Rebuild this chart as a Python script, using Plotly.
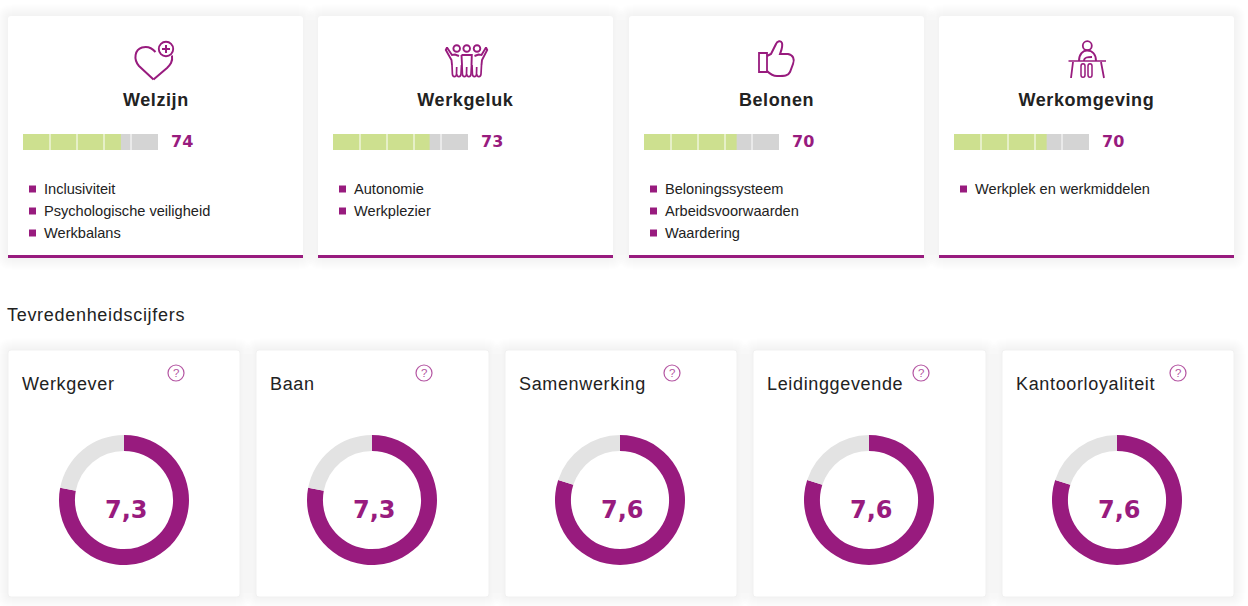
import json
import plotly.graph_objects as go

# ---- data ----
theme_names = ["Welzijn", "Werkgeluk", "Belonen", "Werkomgeving"]
theme_scores = [74, 73, 70, 70]
theme_items = [
    ["Inclusiviteit", "Psychologische veiligheid", "Werkbalans"],
    ["Autonomie", "Werkplezier"],
    ["Beloningssysteem", "Arbeidsvoorwaarden", "Waardering"],
    ["Werkplek en werkmiddelen"],
]
section_title = "Tevredenheidscijfers"
sat_names = ["Werkgever", "Baan", "Samenwerking", "Leidinggevende", "Kantoorloyaliteit"]
sat_labels = ["7,3", "7,3", "7,6", "7,6", "7,6"]
sat_filled = [78, 78, 80, 80, 80]      # drawn share of each ring
sat_rest = [22, 22, 20, 20, 20]
bar_max = 102
segment_edges = [20.4, 40.8, 61.2, 81.6]

# ---- style / layout ----
W, H = 1248, 606
PURPLE = "#981B7E"
GREEN = "#CDE08F"
TRACK = "#D4D4D4"
RING = "#E3E3E3"
INK = "#222222"
QMARK = "#B455A2"
SANS = "Liberation Sans, Arial, sans-serif"
DEJA = "DejaVu Sans, Verdana, sans-serif"

card_x = [(8, 303), (318, 613), (629, 924), (939, 1234)]
card_top, card_bot = 16, 258
sat_x = [(8, 240), (256, 489), (505, 737), (753, 986), (1002, 1234)]
sat_top, sat_bot = 350, 597
help_x = [176, 424, 672, 921, 1178]
ring_cx = [124, 372, 620, 869, 1117]
ring_cy, ring_r = 500, 65


def rrect(x0, y0, x1, y1, r):
    return (f"M{x0+r},{y0} L{x1-r},{y0} Q{x1},{y0} {x1},{y0+r} L{x1},{y1-r} Q{x1},{y1} {x1-r},{y1} "
            f"L{x0+r},{y1} Q{x0},{y1} {x0},{y1-r} L{x0},{y0+r} Q{x0},{y0} {x0+r},{y0} Z")


shapes, notes, traces = [], [], []


def add_path(path, color=PURPLE, w=2.0, fill=None):
    shapes.append(dict(type="path", xref="x", yref="y", path=path, layer="above",
                       line=dict(color=color, width=w),
                       fillcolor=fill if fill else "rgba(0,0,0,0)"))


def add_circle(cx, cy, r, color=PURPLE, w=2.0):
    shapes.append(dict(type="circle", xref="x", yref="y", x0=cx-r, x1=cx+r, y0=cy-r, y1=cy+r,
                       layer="above", line=dict(color=color, width=w)))


def add_card(x0, y0, x1, y1, border=None):
    for e in range(12, 0, -1):
        shapes.append(dict(type="path", xref="x", yref="y", layer="below",
                           path=rrect(x0-e, y0-e, x1+e, y1+e, 4+e),
                           line=dict(width=0), fillcolor="rgba(0,0,0,0.003)"))
    shapes.append(dict(type="path", xref="x", yref="y", layer="below",
                       path=rrect(x0, y0, x1, y1, 3),
                       line=dict(width=1 if border else 0, color=border or "white"),
                       fillcolor="white"))


def note(x, y, text, size, color=INK, font=SANS, anchor="left", bold=False):
    notes.append(dict(xref="x", yref="y", x=x, y=y, text=f"<b>{text}</b>" if bold else text,
                      showarrow=False, xanchor=anchor, yanchor="middle", align=anchor,
                      borderpad=0, borderwidth=0,
                      font=dict(size=size, color=color, family=font)))


# --- icons (decoration, in page pixels) ---
def icon_heart():
    add_path("M153.5,79.5 L139,66 C133,59 135,49.5 142,47.5 C147,46 152,48 155.5,52", w=2)
    add_path("M172,55.5 C173,62 170,65 167,68 L153.5,79.5", w=2)
    add_circle(166, 49, 7.2, w=1.9)
    add_path("M162,49 L170,49 M166,45 L166,53", w=2)


def icon_people():
    for cx in (456.7, 466.7, 477):
        add_circle(cx, 48.5, 3.3, w=1.9)
    # arms and torsos
    add_path("M447,47.5 L452,55 L455,54.5 L459,56 M447,47.5 L445.8,50 L451.5,60 L452,65", w=1.9)
    add_path("M486,47.5 L481.5,55 L478.5,54.5 L474.5,56 M486,47.5 L487.2,50 L482,60 L481.5,65", w=1.9)
    add_path("M461.5,55 L471.8,55 L471.5,65 M461.5,55 L462,65", w=1.9)
    # legs
    for x0 in (452, 462, 472):
        add_path(f"M{x0},65 L{x0+.4},74 C{x0+.6},77.5 {x0+4.2},77.5 {x0+4.5},74 L{x0+4.7},67 "
                 f"M{x0+4.7},74 C{x0+5},77.5 {x0+8.8},77.5 {x0+9},74 L{x0+9.5},65", w=1.7)


def icon_thumb():
    add_path("M759,53 L767,53 L767,72 L759,72 Z", w=1.8)
    add_path("M767,56 L771,54 L776,44 C777,41 781,40 782,43 C783,47 781,51 780,54 L788,54 "
             "C793,55 795,59 793,64 L790,72 C788,76 785,76 777,76 C773,76 771,75 767,71", w=2)


def icon_desk():
    add_circle(1087.3, 45.7, 4.5, w=1.8)
    add_path("M1079,61 C1079,54 1083,50.5 1087,50.5 C1092,50.5 1096,54 1096,61", w=2)
    add_path("M1084,61 C1084,57 1088,57 1092,57", w=1.8)
    add_path("M1068.5,61 L1106,61", w=1.6)
    add_path("M1073,62 L1071,78 M1101,62 L1104,78", w=1.8)
    add_path("M1081,66 C1081,63 1085,63 1085,66 L1085,75 C1085,78 1081,78 1081,75 Z", w=1.5)
    add_path("M1088,66 C1088,63 1092,63 1092,66 L1092,75 C1092,78 1088,78 1088,75 Z", w=1.5)


icons = [icon_heart, icon_people, icon_thumb, icon_desk]

axes = {}
# --- upper cards ---
for i, (x0, x1) in enumerate(card_x):
    add_card(x0, card_top, x1, card_bot)
    shapes.append(dict(type="rect", xref="x", yref="y", layer="below", x0=x0, x1=x1, y0=255, y1=258,
                       line=dict(width=0), fillcolor=PURPLE))
    icons[i]()
    note((x0 + x1) / 2, 100, theme_names[i], 18, anchor="center", bold=True)

    bx0 = x0 + 15
    n = i + 2
    axes[f"xaxis{n}"] = dict(domain=[bx0 / W, (bx0 + 135) / W], range=[0, bar_max], visible=False,
                             anchor=f"y{n}", fixedrange=True)
    axes[f"yaxis{n}"] = dict(domain=[1 - 150 / H, 1 - 134 / H], range=[-0.5, 0.5], visible=False,
                             anchor=f"x{n}", fixedrange=True)
    traces.append(go.Bar(y=[0], x=[bar_max], orientation="h", width=1, xaxis=f"x{n}", yaxis=f"y{n}",
                         marker=dict(color=TRACK, line=dict(width=0)), hoverinfo="skip"))
    traces.append(go.Bar(y=[0], x=[theme_scores[i]], orientation="h", width=1, xaxis=f"x{n}", yaxis=f"y{n}",
                         marker=dict(color=GREEN, line=dict(width=0)), hoverinfo="skip"))
    for e in segment_edges:
        shapes.append(dict(type="line", xref=f"x{n}", yref=f"y{n} domain", x0=e, x1=e, y0=0, y1=1,
                           layer="above", line=dict(color="white", width=1)))
    note(bx0 + 148, 141, str(theme_scores[i]), 16, color=PURPLE, font=DEJA, bold=True)

    for k, item in enumerate(theme_items[i]):
        yy = 189 + 22 * k
        shapes.append(dict(type="rect", xref="x", yref="y", layer="above",
                           x0=x0 + 21, x1=x0 + 28, y0=yy - 3.5, y1=yy + 3.5,
                           line=dict(width=0), fillcolor=PURPLE))
        note(x0 + 36, yy, item, 14.6)

note(7, 315, section_title, 18)

# --- lower cards ---
for i, (x0, x1) in enumerate(sat_x):
    add_card(x0, sat_top, x1, sat_bot, border="#F1F1F1")
    note(x0 + 14, 384, sat_names[i], 18)
    add_circle(help_x[i], 373, 8, color=QMARK, w=1.2)
    note(help_x[i], 373, "?", 11.5, color=QMARK, anchor="center")
    cx = ring_cx[i]
    traces.append(go.Pie(values=[sat_filled[i], sat_rest[i]], hole=0.755, sort=False,
                         direction="clockwise", rotation=0, textinfo="none", hoverinfo="skip",
                         marker=dict(colors=[PURPLE, RING], line=dict(width=0)),
                         domain=dict(x=[(cx - ring_r) / W, (cx + ring_r) / W],
                                     y=[1 - (ring_cy + ring_r) / H, 1 - (ring_cy - ring_r) / H]),
                         showlegend=False))
    note(cx + 2.5, 510, sat_labels[i], 24, color=PURPLE, font=DEJA, bold=True, anchor="center")

fig = go.Figure(traces)
fig.update_layout(
    width=W, height=H, margin=dict(l=0, r=0, t=0, b=0, pad=0),
    paper_bgcolor="white", plot_bgcolor="rgba(0,0,0,0)",
    barmode="overlay", showlegend=False,
    xaxis=dict(domain=[0, 1], range=[0, W], visible=False, fixedrange=True),
    yaxis=dict(domain=[0, 1], range=[H, 0], visible=False, fixedrange=True),
    shapes=shapes, annotations=notes, **axes,
)

# CSS letter-spacing on the headings, which plotly fonts cannot express
spacing = {section_title: 0.7}
spacing.update({t: 0.6 for t in theme_names})
spacing.update({t: 0.65 for t in sat_names})
post = """
document.body.style.margin='0';
var sp = %s;
function applySpacing(){
  document.querySelectorAll('.annotation-text').forEach(function(t){
    var s = sp[t.textContent];
    if (s) { t.style.letterSpacing = s + 'px'; }
  });
}
applySpacing();
var gd = document.querySelector('.plotly-graph-div');
if (gd && gd.on) { gd.on('plotly_afterplot', applySpacing); }
""" % json.dumps(spacing)
fig.write_html("out.html", config=dict(displayModeBar=False), post_script=post)
